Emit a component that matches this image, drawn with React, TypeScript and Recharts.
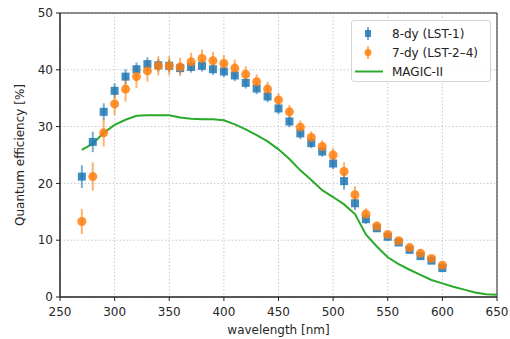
import React from "react";
import {
  ComposedChart,
  Scatter,
  Line,
  XAxis,
  YAxis,
  CartesianGrid,
  ErrorBar,
  ReferenceArea,
  Legend,
} from "recharts";

// wavelengths of the two LST measurements [nm]
const wavelengths = [
  270, 280, 290, 300, 310, 320, 330, 340, 350, 360, 370, 380, 390, 400, 410,
  420, 430, 440, 450, 460, 470, 480, 490, 500, 510, 520, 530, 540, 550, 560,
  570, 580, 590, 600,
];

const qeLst1 = [
  21.2, 27.3, 32.6, 36.3, 38.8, 40.1, 41.0, 40.8, 40.7, 40.3, 40.5, 40.7, 40.1,
  39.7, 39.0, 37.7, 36.7, 35.3, 33.2, 30.9, 28.8, 27.1, 25.6, 23.5, 20.4, 16.5,
  13.7, 12.1, 10.6, 9.6, 8.3, 7.2, 6.4, 5.1,
];
const errLst1 = [
  2.0, 1.8, 1.5, 1.3, 1.3, 1.2, 1.2, 1.1, 1.1, 1.0, 1.0, 1.0, 1.0, 1.0, 1.0,
  1.0, 1.0, 1.0, 1.0, 1.0, 1.0, 0.9, 0.9, 1.0, 1.5, 1.2, 0.8, 0.6, 0.5, 0.5,
  0.5, 0.5, 0.5, 0.5,
];

const qeLst24 = [
  13.3, 21.2, 28.9, 34.0, 36.6, 38.8, 39.8, 40.7, 40.7, 40.5, 41.4, 42.0, 41.6,
  41.1, 40.3, 39.2, 37.9, 36.6, 34.7, 32.6, 29.9, 28.1, 26.5, 25.0, 22.1, 18.0,
  14.6, 12.5, 11.0, 9.9, 8.7, 7.7, 6.8, 5.6,
];
const errLst24 = [
  2.2, 2.5, 2.4, 2.0, 2.2, 2.0, 1.9, 1.7, 1.7, 1.6, 1.6, 1.6, 1.6, 1.5, 1.5,
  1.4, 1.3, 1.3, 1.2, 1.2, 1.2, 1.1, 1.1, 1.2, 1.6, 1.5, 1.0, 0.7, 0.6, 0.6,
  0.5, 0.5, 0.5, 0.5,
];

const magicWavelengths = [
  270, 280, 290, 300, 310, 320, 330, 340, 350, 360, 370, 380, 390, 400, 410,
  420, 430, 440, 450, 460, 470, 480, 490, 500, 510, 520, 530, 540, 550, 560,
  570, 580, 590, 600, 610, 620, 630, 640, 650,
];
const qeMagic = [
  25.9, 27.0, 28.9, 30.3, 31.2, 31.9, 32.0, 32.0, 32.0, 31.6, 31.4, 31.3, 31.3,
  31.1, 30.4, 29.5, 28.5, 27.4, 26.0, 24.3, 22.3, 20.6, 18.8, 17.6, 16.3, 14.6,
  11.0, 8.9, 7.0, 5.8, 4.8, 3.9, 3.0, 2.4, 1.8, 1.3, 0.8, 0.5, 0.4,
];

const xTicks = [250, 300, 350, 400, 450, 500, 550, 600, 650];
const yTicks = [0, 10, 20, 30, 40, 50];

const BLUE = "#1f77b4";
const ORANGE = "#ff7f0e";
const GREEN = "#2aaa2a";

const lst1Data = wavelengths.map((wl, i) => ({ wl, qe: qeLst1[i], err: errLst1[i] }));
const lst24Data = wavelengths.map((wl, i) => ({ wl, qe: qeLst24[i], err: errLst24[i] }));
const magicData = magicWavelengths.map((wl, i) => ({ wl, qe: qeMagic[i] }));

const font = "DejaVu Sans, sans-serif";

const Square = (props: any) => (
  <rect
    x={props.cx - 4}
    y={props.cy - 4}
    width={8}
    height={8}
    fill={BLUE}
    fillOpacity={0.85}
  />
);

const Dot = (props: any) => (
  <circle cx={props.cx} cy={props.cy} r={4.5} fill={ORANGE} fillOpacity={0.85} />
);

const LegendBox = () => (
  <div
    style={{
      width: 140,
      height: 62,
      border: "1px solid #d5d5d5",
      borderRadius: 3,
      background: "rgba(255,255,255,0.85)",
      fontFamily: font,
      fontSize: 12,
      color: "#222",
      boxSizing: "border-box",
      position: "relative",
    }}
  >
    {[
      { label: "8-dy (LST-1)", kind: "sq" },
      { label: "7-dy (LST-2–4)", kind: "dot" },
      { label: "MAGIC-II", kind: "line" },
    ].map((e, i) => (
      <div
        key={e.label}
        style={{ position: "absolute", left: 0, top: 4 + i * 19, height: 17, display: "flex", alignItems: "center" }}
      >
        <svg width={40} height={17}>
          {e.kind === "sq" && (
            <g>
              <line x1={16} x2={16} y1={2} y2={15} stroke={BLUE} strokeOpacity={0.6} strokeWidth={2} />
              <rect x={13} y={5} width={6} height={7} fill={BLUE} fillOpacity={0.85} />
            </g>
          )}
          {e.kind === "dot" && (
            <g>
              <line x1={16} x2={16} y1={2} y2={15} stroke={ORANGE} strokeOpacity={0.6} strokeWidth={2} />
              <circle cx={16} cy={8.5} r={3.5} fill={ORANGE} fillOpacity={0.85} />
            </g>
          )}
          {e.kind === "line" && <line x1={3} x2={31} y1={8.5} y2={8.5} stroke={GREEN} strokeWidth={2} />}
        </svg>
        <span>{e.label}</span>
      </div>
    ))}
  </div>
);

export default function App() {
  return (
    <div style={{ position: "absolute", left: 0, top: 0, width: 510, height: 339, background: "#fff" }}>
      <ComposedChart width={510} height={339} margin={{ top: 13, right: 13, bottom: 0, left: 0 }}>
        <CartesianGrid stroke="#c8c8c8" strokeDasharray="1.5 2" />
        <XAxis
          type="number"
          dataKey="wl"
          domain={[250, 650]}
          ticks={xTicks}
          allowDataOverflow
          height={42}
          tickSize={4}
          tickMargin={6}
          stroke="#222"
          tick={{ fill: "#262626", fontSize: 12, fontFamily: font }}
          label={{
            value: "wavelength [nm]",
            position: "center",
            dy: 12,
            fill: "#262626",
            fontSize: 12,
            fontFamily: font,
          }}
        />
        <YAxis
          type="number"
          domain={[0, 50]}
          ticks={yTicks}
          width={60}
          tickSize={4}
          tickMargin={3}
          stroke="#222"
          tick={{ fill: "#262626", fontSize: 12, fontFamily: font }}
          label={{
            value: "Quantum efficiency [%]",
            angle: -90,
            position: "center",
            dx: -10,
            fill: "#262626",
            fontSize: 12,
            fontFamily: font,
          }}
        />
        <ReferenceArea x1={250} x2={650} y1={0} y2={50} fill="none" stroke="#222" strokeWidth={1} />
        <Scatter data={lst1Data} dataKey="qe" shape={Square} isAnimationActive={false}>
          <ErrorBar dataKey="err" direction="y" width={0} stroke={BLUE} strokeOpacity={0.6} strokeWidth={2} isAnimationActive={false} />
        </Scatter>
        <Scatter data={lst24Data} dataKey="qe" shape={Dot} isAnimationActive={false}>
          <ErrorBar dataKey="err" direction="y" width={0} stroke={ORANGE} strokeOpacity={0.6} strokeWidth={2} isAnimationActive={false} />
        </Scatter>
        <Line
          data={magicData}
          dataKey="qe"
          type="linear"
          stroke={GREEN}
          strokeWidth={2}
          dot={false}
          activeDot={false}
          isAnimationActive={false}
        />
        <Legend
          layout="horizontal"
          verticalAlign="middle"
          align="center"
          wrapperStyle={{ position: "absolute", left: 351, top: 20, width: 140 }}
          content={() => <LegendBox />}
        />
      </ComposedChart>
    </div>
  );
}
